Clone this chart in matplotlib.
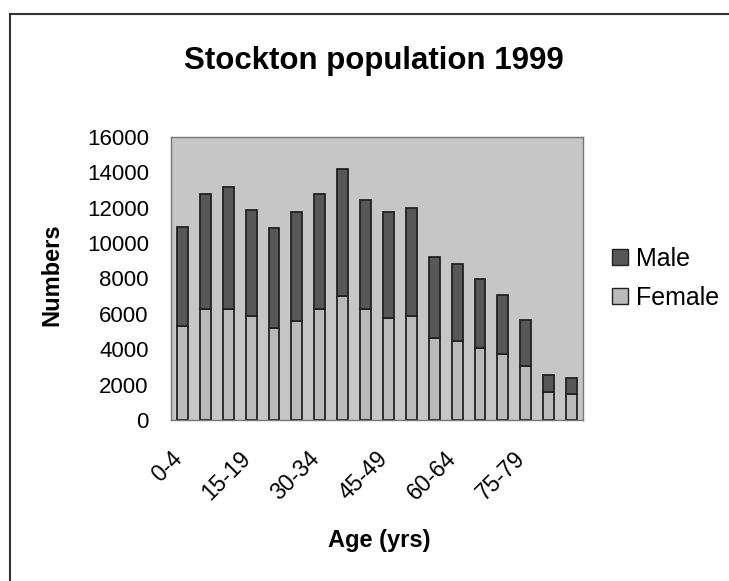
import numpy as np
import matplotlib.pyplot as plt
from matplotlib.lines import Line2D
from matplotlib.transforms import ScaledTranslation

plt.rcParams['font.family'] = ['Liberation Sans', 'DejaVu Sans']

age_groups = ['0-4', '5-9', '10-14', '15-19', '20-24', '25-29', '30-34', '35-39',
              '40-44', '45-49', '50-54', '55-59', '60-64', '65-69', '70-74',
              '75-79', '80-84', '85+']
totals = [10900, 12800, 13150, 11880, 10850, 11780, 12800, 14170, 12440,
          11780, 12000, 9200, 8820, 7980, 7080, 5630, 2550, 2350]
female = [5300, 6280, 6300, 5870, 5180, 5590, 6300, 7000, 6300,
          5780, 5870, 4620, 4470, 4090, 3720, 3060, 1560, 1470]
male = [t - f for t, f in zip(totals, female)]

shown_labels = ['0-4', '15-19', '30-34', '45-49', '60-64', '75-79']

W, H = 729, 581
fig = plt.figure(figsize=(W / 100, H / 100), dpi=100)

# outer chart frame (runs off the right and bottom edges)
frame = plt.Rectangle((10 / W, -0.05), 1.0, 1 - 14 / H + 0.05,
                      transform=fig.transFigure, fill=False,
                      edgecolor='#333333', linewidth=1.5)
fig.add_artist(frame)

ax = fig.add_axes([171 / W, 1 - 420 / H, (583 - 171) / W, (420 - 137) / H])
ax.set_facecolor('#c6c6c6')

x = np.arange(len(age_groups))
ax.bar(x, female, width=0.48, color='#bababa', edgecolor='#222222', linewidth=1.3,
       label='Female')
ax.bar(x, male, width=0.48, bottom=female, color='#575757', edgecolor='#222222',
       linewidth=1.3, label='Male')

ax.set_xlim(-0.5, len(age_groups) - 0.5)
ax.set_ylim(0, 16000)
ax.set_yticks(np.arange(0, 16001, 2000))
ax.tick_params(axis='y', length=0, labelsize=16, pad=16)
ax.set_xticks([age_groups.index(l) for l in shown_labels])
ax.set_xticklabels(shown_labels, rotation=45, ha='right', va='center',
                   rotation_mode='anchor', fontsize=16.5)
ax.tick_params(axis='x', length=0, pad=25)
shift = ScaledTranslation(-4 / 100, 0, fig.dpi_scale_trans)
for lab in ax.get_xticklabels():
    lab.set_transform(lab.get_transform() + shift)
for s in ax.spines.values():
    s.set_color('#777777')
    s.set_linewidth(1.0)

fig.text(374 / W, 1 - 61 / H, 'Stockton population 1999', fontsize=22.5,
         fontweight='bold', ha='center', va='center')
fig.text(52 / W, 1 - 275 / H, 'Numbers', fontsize=17, fontweight='bold',
         rotation=90, ha='center', va='center')
fig.text(379 / W, 1 - 541 / H, 'Age (yrs)', fontsize=17, fontweight='bold',
         ha='center', va='center')

handles = [Line2D([], [], marker='s', linestyle='none', markersize=11,
                  markerfacecolor='#575757', markeredgecolor='#222222'),
           Line2D([], [], marker='s', linestyle='none', markersize=11,
                  markerfacecolor='#bababa', markeredgecolor='#222222')]
fig.legend(handles, ['Male', 'Female'], loc='center left',
           bbox_to_anchor=(611 / W, 1 - 278 / H), frameon=False,
           fontsize=18, handlelength=0.7, handletextpad=0.3,
           labelspacing=0.6, borderpad=0, borderaxespad=0)

fig.savefig('out.png', dpi=100)
